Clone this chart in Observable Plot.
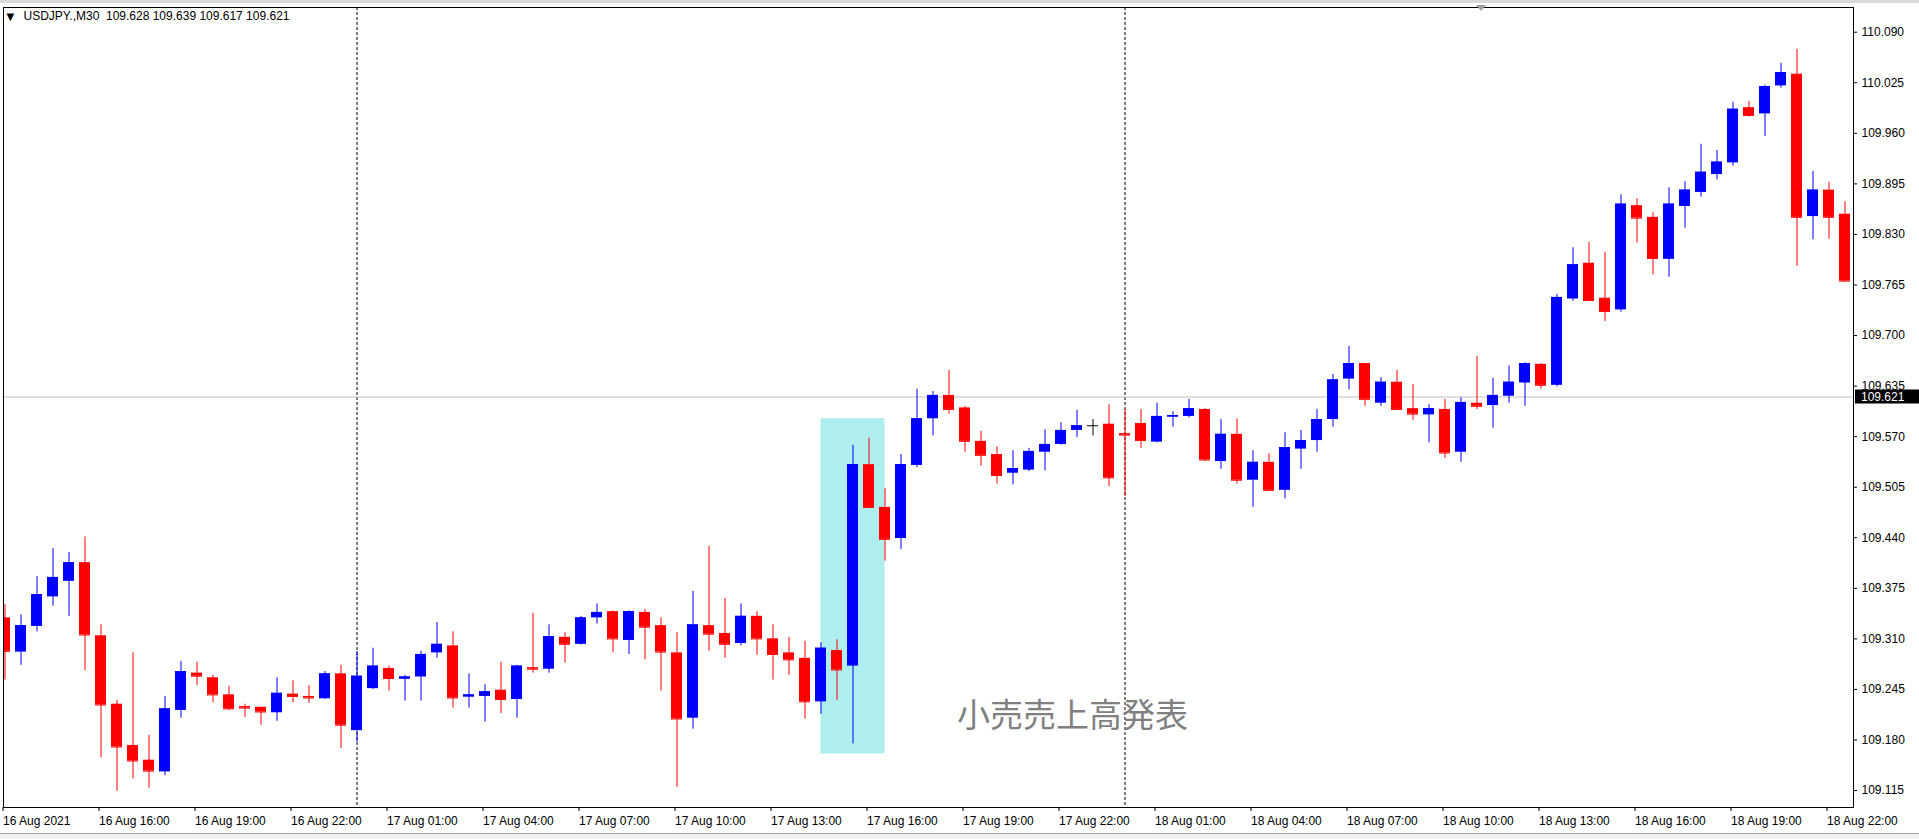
<!DOCTYPE html>
<html>
<head>
<meta charset="utf-8">
<script src="https://cdn.jsdelivr.net/npm/d3@7"></script>
<script src="https://cdn.jsdelivr.net/npm/@observablehq/plot@0.6"></script>
<style>
  html, body { margin: 0; padding: 0; background: #ffffff; }
  #chart { position: relative; width: 1919px; height: 839px; overflow: hidden; }
</style>
</head>
<body>
<div id="chart"></div>
<script>
// ---- data: USDJPY., M30, one bar per 30 minutes starting 16 Aug 13:00 ----
const symbol = "USDJPY.,M30";
const lastBarOHLC = ["109.628", "109.639", "109.617", "109.621"];
const lastPrice = 109.621;

const open = [
  109.337,109.293,109.326,109.364,109.384,109.408,109.314,109.226,109.173,109.154,
  109.139,109.218,109.266,109.260,109.238,109.223,109.222,109.215,109.239,109.236,
  109.233,109.265,109.192,109.246,109.272,109.258,109.261,109.292,109.301,109.235,
  109.236,109.244,109.232,109.273,109.271,109.312,109.303,109.337,109.345,109.308,
  109.344,109.327,109.292,109.208,109.327,109.317,109.304,109.339,109.310,109.292,
  109.285,109.229,109.295,109.275,109.534,109.479,109.439,109.533,109.593,109.623,
  109.607,109.564,109.547,109.523,109.527,109.550,109.560,109.578,109.584,109.586,
  109.574,109.587,109.563,109.595,109.596,109.605,109.538,109.573,109.514,109.537,
  109.501,109.554,109.565,109.592,109.644,109.664,109.613,109.640,109.606,109.598,
  109.605,109.550,109.613,109.610,109.622,109.639,109.663,109.636,109.747,109.793,
  109.748,109.733,109.867,109.852,109.798,109.866,109.884,109.907,109.922,109.993,
  109.985,110.021,110.036,109.853,109.887,109.856];
const high = [
  109.354,109.341,109.390,109.426,109.421,109.441,109.328,109.231,109.292,109.186,
  109.236,109.281,109.280,109.263,109.249,109.226,109.222,109.260,109.256,109.250,
  109.268,109.276,109.294,109.298,109.275,109.263,109.294,109.331,109.319,109.265,
  109.251,109.280,109.276,109.343,109.328,109.318,109.339,109.355,109.346,109.346,
  109.348,109.337,109.318,109.371,109.429,109.362,109.355,109.345,109.328,109.312,
  109.307,109.305,109.309,109.559,109.568,109.503,109.547,109.631,109.628,109.655,
  109.609,109.577,109.557,109.552,109.555,109.579,109.588,109.604,109.592,109.611,
  109.605,109.605,109.613,109.602,109.618,109.606,109.592,109.593,109.552,109.548,
  109.575,109.578,109.605,109.650,109.686,109.664,109.646,109.655,109.637,109.611,
  109.618,109.620,109.673,109.645,109.661,109.665,109.664,109.753,109.813,109.820,
  109.807,109.881,109.876,109.858,109.890,109.898,109.946,109.938,110.000,110.001,
  110.022,110.050,110.068,109.911,109.897,109.872];
const low = [
  109.257,109.276,109.319,109.352,109.339,109.269,109.157,109.114,109.130,109.118,
  109.134,109.208,109.250,109.228,109.218,109.209,109.199,109.204,109.228,109.227,
  109.232,109.169,109.177,109.245,109.243,109.230,109.230,109.285,109.221,109.221,
  109.203,109.214,109.208,109.266,109.266,109.279,109.302,109.329,109.292,109.290,
  109.283,109.243,109.119,109.194,109.294,109.285,109.301,109.289,109.257,109.263,
  109.207,109.213,109.231,109.175,109.478,109.410,109.425,109.530,109.571,109.599,
  109.550,109.532,109.509,109.508,109.525,109.526,109.559,109.569,109.571,109.506,
  109.493,109.555,109.562,109.582,109.594,109.538,109.528,109.509,109.479,109.500,
  109.490,109.528,109.550,109.582,109.630,109.609,109.609,109.604,109.591,109.562,
  109.542,109.537,109.605,109.581,109.613,109.609,109.631,109.634,109.744,109.744,
  109.718,109.730,109.819,109.778,109.775,109.838,109.878,109.900,109.918,109.981,
  109.956,110.018,109.789,109.823,109.824,109.769];
const close = [
  109.294,109.327,109.367,109.389,109.408,109.315,109.225,109.171,109.153,109.140,
  109.220,109.268,109.262,109.238,109.220,109.221,109.216,109.240,109.236,109.234,
  109.265,109.199,109.262,109.275,109.259,109.261,109.290,109.303,109.234,109.238,
  109.242,109.232,109.275,109.271,109.313,109.303,109.337,109.344,109.310,109.345,
  109.325,109.293,109.207,109.328,109.316,109.303,109.339,109.310,109.290,109.283,
  109.229,109.298,109.270,109.534,109.479,109.438,109.534,109.593,109.623,109.605,
  109.564,109.546,109.520,109.529,109.551,109.560,109.578,109.584,109.584,109.517,
  109.572,109.565,109.596,109.597,109.606,109.540,109.573,109.514,109.537,109.501,
  109.556,109.565,109.592,109.643,109.664,109.618,109.640,109.605,109.599,109.606,
  109.549,109.614,109.609,109.623,109.640,109.664,109.636,109.749,109.791,109.745,
  109.731,109.869,109.851,109.799,109.869,109.887,109.910,109.923,109.991,109.983,
  110.020,110.038,109.852,109.887,109.852,109.770];

// x-axis tick labels (bar index -> label), every 6 bars (3 hours)
const xTickBars = [0,6,12,18,24,30,36,42,48,54,60,66,72,78,84,90,96,102,108,114];
const xTickLabels = ["16 Aug 2021","16 Aug 16:00","16 Aug 19:00","16 Aug 22:00","17 Aug 01:00",
  "17 Aug 04:00","17 Aug 07:00","17 Aug 10:00","17 Aug 13:00","17 Aug 16:00","17 Aug 19:00",
  "17 Aug 22:00","18 Aug 01:00","18 Aug 04:00","18 Aug 07:00","18 Aug 10:00","18 Aug 13:00",
  "18 Aug 16:00","18 Aug 19:00","18 Aug 22:00"];
// y-axis ticks (price)
const yTicks = [110.090,110.025,109.960,109.895,109.830,109.765,109.700,109.635,109.570,
  109.505,109.440,109.375,109.310,109.245,109.180,109.115];
// day separators (bar index of 00:00)
const daySeparators = [22, 70];
// highlighted zone around the retail sales release
const highlightZone = [{from: 51, to: 55, low: 109.162, high: 109.593}];
// text annotation
const annotations = [{text: "小売売上高発表", bar: 59.5, price: 109.21}];

// ---- build ----
const bars = open.map((o, i) => ({i, open: o, high: high[i], low: low[i], close: close[i]}));
const candleColor = d => d.close > d.open ? "#0000FF" : d.close < d.open ? "#FF0000" : "#000000";
const HW = 0.34375; // half body width in bar units
const FONT = "'Liberation Sans', Arial, sans-serif";

const chart = Plot.plot({
  width: 1919,
  height: 839,
  marginLeft: 3,
  marginRight: 66,
  marginTop: 7,
  marginBottom: 32,
  style: {fontFamily: FONT, fontSize: "12px", background: "#ffffff", color: "#000000"},
  x: {type: "linear", domain: [-0.09375, 115.53125]},
  y: {type: "linear", domain: [109.0932, 110.1218]},
  marks: [
    Plot.rect(highlightZone, {x1: "from", x2: "to", y1: "low", y2: "high", fill: "#AFEEEE"}),
    Plot.ruleX(daySeparators, {x: d => d, stroke: "#000000", strokeDasharray: "3,2"}),
    Plot.ruleY([lastPrice], {y: d => d, stroke: "#C0C0C0"}),
    Plot.ruleX(bars, {x: "i", y1: "low", y2: "high", stroke: candleColor, clip: true}),
    Plot.rect(bars, {x1: d => d.i - HW, x2: d => d.i + HW, y1: "open", y2: "close", fill: candleColor, clip: true}),
    Plot.ruleY(bars, {y: "close", x1: d => d.i - HW, x2: d => d.i + HW, stroke: candleColor, clip: true}),
    Plot.text(annotations, {x: "bar", y: "price", text: "text", textAnchor: "start", fill: "#808080",
      fontSize: 33, fontFamily: "'Noto Sans CJK JP', sans-serif"}),
    Plot.text([symbol + "\u00A0\u00A0" + lastBarOHLC.join(" ")], {frameAnchor: "top-left", dx: 20, dy: 4,
      fill: "#000000", fontSize: 12, textAnchor: "start", lineAnchor: "top"}),
    Plot.text(["▼"], {frameAnchor: "top-left", dx: 3, dy: 5, fill: "#000000", fontSize: 10,
      fontFamily: "'DejaVu Sans', sans-serif", textAnchor: "start", lineAnchor: "top"}),
    Plot.axisY({anchor: "right", ticks: yTicks, tickFormat: d3.format(".3f"), tickSize: 3, tickPadding: 5,
      fontSize: 12, label: null}),
    Plot.axisX({anchor: "bottom", ticks: xTickBars, tickFormat: d => xTickLabels[xTickBars.indexOf(d)],
      tickSize: 4, tickPadding: 5, textAnchor: "start", dx: -2, fontSize: 12, label: null}),
    Plot.frame({stroke: "#000000"})
  ]
});
document.getElementById("chart").appendChild(chart);

// current price label on the right axis, positioned through the y scale
const svg = d3.select(chart);
const yPx = chart.scale("y").apply(lastPrice);
svg.append("rect").attr("x", 1855).attr("y", yPx - 7).attr("width", 64).attr("height", 14).attr("fill", "#000000");
svg.append("text").attr("x", 1861).attr("y", yPx).attr("dy", "0.35em").attr("fill", "#ffffff")
  .attr("text-anchor", "start").attr("font-size", 12).attr("font-family", FONT)
  .text(d3.format(".3f")(lastPrice));

// window chrome: top border, chart-shift marker and bottom tab strip
svg.append("rect").attr("x", 0).attr("y", 0).attr("width", 1919).attr("height", 3).attr("fill", "#D9D9D9");
svg.append("path").attr("d", "M1476,5 L1486,5 L1481,11 Z").attr("fill", "#A0A0A0");
svg.append("rect").attr("x", 0).attr("y", 834).attr("width", 1919).attr("height", 5).attr("fill", "#F0F0F0");
svg.append("line").attr("x1", 0).attr("x2", 1919).attr("y1", 833.5).attr("y2", 833.5).attr("stroke", "#A0A0A0");
</script>
</body>
</html>
